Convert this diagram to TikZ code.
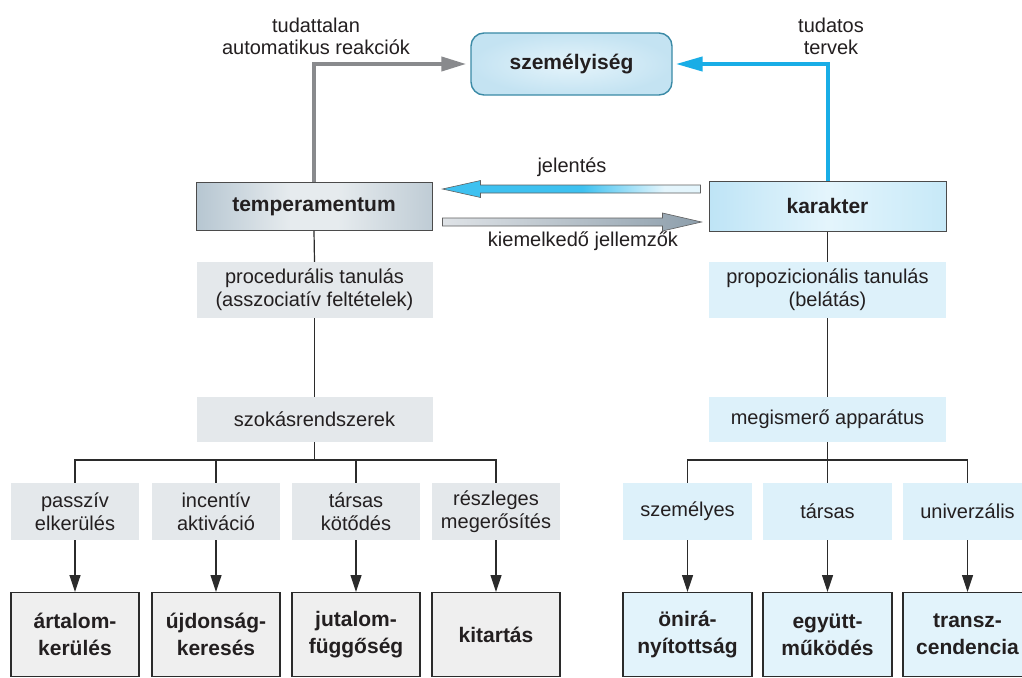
\documentclass[tikz,border=0pt]{standalone}
\usepackage{fontspec}
\setmainfont{Liberation Sans}
\usetikzlibrary{arrows.meta,calc}

\definecolor{ink}{HTML}{231F20}
\definecolor{lineclr}{HTML}{2B2B2B}
\definecolor{unconsc}{HTML}{898A8D}
\definecolor{consc}{HTML}{19ADE6}
\definecolor{lfill}{HTML}{E4E8EB}
\definecolor{rfill}{HTML}{DDF1FA}
\definecolor{lfinal}{HTML}{EFEFEF}
\definecolor{rfinal}{HTML}{E2F3FB}
\definecolor{jcyan}{HTML}{3EC1F0}
\definecolor{jlight}{HTML}{E4F5FC}
\definecolor{tl}{HTML}{B6C6D1}
\definecolor{tm}{HTML}{E6EBEE}
\definecolor{tr}{HTML}{BFCCD5}

% meaning arrow: solid cyan at the tip, fading towards the tail
\pgfdeclarehorizontalshading{meaningshade}{100bp}{%
  color(0bp)=(jcyan); color(25bp)=(jcyan); color(52bp)=(jcyan);
  color(68bp)=(jlight); color(75bp)=(jlight); color(100bp)=(jlight)}

% temperament box: darker edges, light centre
\pgfdeclarehorizontalshading{tempshade}{100bp}{%
  color(0bp)=(tl); color(25bp)=(tl); color(45bp)=(tm);
  color(55bp)=(tm); color(75bp)=(tr); color(100bp)=(tr)}

\begin{document}
\begin{tikzpicture}[x=1pt,y=-1pt,
  every node/.style={text=ink, align=center, inner sep=0pt,
    font=\fontsize{20}{23}\selectfont},
  boldtext/.style={font=\fontsize{21}{25}\selectfont\bfseries},
  conn/.style={draw=lineclr, line width=1.2pt},
  downarrow/.style={conn, -{Triangle[length=17pt,width=11pt]}},
  persbox/.style={boldtext, draw={rgb,255:red,59;green,138;blue,166}, line width=1.4pt,
    rounded corners=13pt, shade, shading=radial,
    inner color={rgb,255:red,229;green,244;blue,251},
    outer color={rgb,255:red,196;green,227;blue,242},
    minimum width=201pt, minimum height=62pt},
  tempbox/.style={boldtext, draw=lineclr!85, line width=1pt,
    shade, shading=tempshade,
    minimum width=236pt, minimum height=48pt},
  karbox/.style={boldtext, draw=lineclr!85, line width=1pt,
    left color={rgb,255:red,190;green,228;blue,246},
    right color={rgb,255:red,199;green,233;blue,248},
    middle color={rgb,255:red,228;green,245;blue,252},
    minimum width=237pt, minimum height=50pt},
  lstage/.style={fill=lfill, minimum width=236pt},
  rstage/.style={fill=rfill, minimum width=237pt},
  lkind/.style={fill=lfill, minimum width=128pt, minimum height=57pt},
  rkind/.style={fill=rfill, minimum width=129pt, minimum height=57pt},
  traittext/.style={font=\fontsize{21}{27}\selectfont\bfseries},
  ltrait/.style={traittext, fill=lfinal, draw=lineclr, line width=1.3pt,
    minimum width=128pt, minimum height=84pt, anchor=north},
  rtrait/.style={traittext, fill=rfinal, draw=lineclr, line width=1.3pt,
    minimum width=129pt, minimum height=84pt, anchor=north},
  flowlabel/.style={font=\fontsize{20}{22}\selectfont},
]
\useasboundingbox (0,0) rectangle (1022,677);
\fill[white] (0,0) rectangle (1022,677);
\clip (0,0) rectangle (1022,677);

% top: personality
\node[persbox] (pers) at (571.5,64) {személyiség};

% the two main systems
\node[tempbox] (temp) at (314,206.5) {temperamentum};
\node[karbox]  (kar)  at (827.5,206) {karakter};

% temperament column
\node[lstage, minimum height=56pt] (proc) at (314.5,290)
  {procedurális tanulás\\(asszociatív feltételek)};
\node[lstage, minimum height=45pt] (habit) at (314.5,419.5) {szokásrendszerek};
\coordinate (lfork) at (314.5,460);

\node[lkind] (lk1) at (75,511.5)  {passzív\\elkerülés};
\node[lkind] (lk2) at (216,511.5) {incentív\\aktiváció};
\node[lkind] (lk3) at (356,511.5) {társas\\kötődés};
\node[lkind] (lk4) at (496,511.5) {részleges\\megerősítés};

\node[ltrait] (lt1) at (75,592)  {ártalom-\\kerülés};
\node[ltrait] (lt2) at (216,592) {újdonság-\\keresés};
\node[ltrait] (lt3) at (356,592) {jutalom-\\függőség};
\node[ltrait] (lt4) at (496,592) {kitartás};

% character column
\node[rstage, minimum height=56pt] (prop) at (827.5,290)
  {propozicionális tanulás\\(belátás)};
\node[rstage, minimum height=45pt] (cogn) at (827.5,419.5) {megismerő apparátus};
\coordinate (rfork) at (827.5,460);

\node[rkind] (rk1) at (687.5,511.5) {személyes};
\node[rkind] (rk2) at (827.5,511.5) {társas};
\node[rkind] (rk3) at (967.5,511.5) {univerzális};

\node[rtrait] (rt1) at (687.5,592) {önirá-\\nyítottság};
\node[rtrait] (rt2) at (827.5,592) {együtt-\\működés};
\node[rtrait] (rt3) at (967.5,592) {transz-\\cendencia};

% thin tree connectors
\draw[conn] (temp.south) -- (proc.north);
\draw[conn] (proc.south) -- (habit.north);
\draw[conn] (habit.south) -- (lfork);
\foreach \k in {lk1,lk2,lk3,lk4} \draw[conn] (\k.north) |- (lfork);
\foreach \k/\t in {lk1/lt1,lk2/lt2,lk3/lt3,lk4/lt4}
  \draw[downarrow] (\k.south) -- (\t.north);

\draw[conn] (kar.south) -- (prop.north);
\draw[conn] (prop.south) -- (cogn.north);
\draw[conn] (cogn.south) -- (rfork);
\foreach \k in {rk1,rk2,rk3} \draw[conn] (\k.north) |- (rfork);
\foreach \k/\t in {rk1/rt1,rk2/rt2,rk3/rt3}
  \draw[downarrow] (\k.south) -- (\t.north);

% paths up to personality
\draw[draw=unconsc, line width=4pt, shorten >=4pt,
  -{Triangle[length=25pt,width=14pt]}] (temp.north) |- (pers.west);
\draw[draw=consc, line width=4pt, shorten >=3pt,
  -{Triangle[length=27pt,width=14pt]}] (kar.north) |- (pers.east);

\node[flowlabel] (lblU) at (316,36) {tudattalan\\automatikus reakciók};
\node[flowlabel] (lblC) at (831,36) {tudatos\\tervek};

% block arrows between temperament and character
\coordinate (jtip) at ($(temp.east)+(10,-17.5)$);
\coordinate (jend) at ($(jtip -| kar.west)+(-8,0)$);
\path[shade, shading=meaningshade, draw=lineclr!75, line width=0.6pt]
  (jtip) -- ++(38,-8.5) -- ++(0,4.5) -- ($(jend)+(0,-4)$) -- ($(jend)+(0,4)$)
  -- ($(jtip)+(38,4)$) -- ++(0,4.5) -- cycle;

\coordinate (ktail) at ($(temp.east)+(10,15.5)$);
\coordinate (ktip) at ($(ktail -| kar.west)+(-7,0)$);
\path[shade, left color={rgb,255:red,223;green,227;blue,231},
  right color={rgb,255:red,141;green,158;blue,171},
  draw=lineclr!75, line width=0.6pt]
  ($(ktail)+(0,-4)$) -- ($(ktip)+(-39,-4)$) -- ++(0,-5) -- (ktip)
  -- ($(ktip)+(-39,9)$) -- ++(0,-5) -- ($(ktail)+(0,4)$) -- cycle;

\node[flowlabel] (lblJ) at (572,167) {jelentés};
\node[flowlabel] (lblK) at (583,241) {kiemelkedő jellemzők};

\end{tikzpicture}
\end{document}
